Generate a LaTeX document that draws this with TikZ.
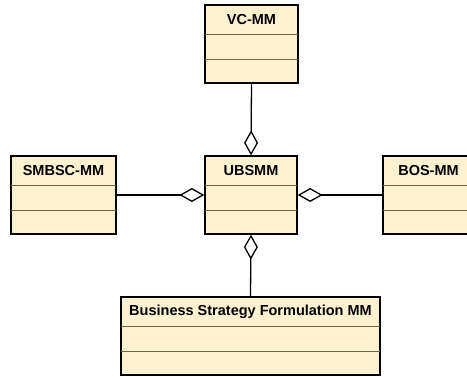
\documentclass[tikz,border=0pt]{standalone}
\usepackage{fontspec}
\setmainfont{Liberation Sans}
\usetikzlibrary{arrows.meta}
\definecolor{classfill}{RGB}{253,241,208}
\definecolor{sepline}{RGB}{115,100,78}
\tikzset{
  classbox/.style={draw=black, line width=1.3pt, fill=classfill, minimum height=78, inner sep=0pt},
  classtitle/.style={font=\bfseries\fontsize{14.5}{16}\selectfont, inner sep=0pt},
  aggr/.style={line width=1.3pt, -{Diamond[open,length=25pt,width=14pt]}},
}
\newcommand{\ClassBox}[5]{%
  \node[classbox, minimum width=#4] (#1) at (#2,#3) {};
  \node[classtitle] (#1-title) at ([yshift=-15.5]#1.north) {#5};
  \draw[sepline, line width=.9pt, shorten <=.7pt, shorten >=.7pt] ([yshift=-30]#1.north west) -- ([yshift=-30]#1.north east);
  \draw[sepline, line width=.9pt, shorten <=.7pt, shorten >=.7pt] ([yshift=-55]#1.north west) -- ([yshift=-55]#1.north east);
}

\begin{document}
\begin{tikzpicture}[x=1pt,y=1pt]
    \useasboundingbox (0,0) rectangle (467,376);
    \ClassBox{vc}{251.5}{332}{93}{VC-MM}
    \ClassBox{smbsc}{63.5}{181}{105}{SMBSC-MM}
    \ClassBox{ubsmm}{251}{181}{92}{UBSMM}
    \ClassBox{bos}{428.5}{181}{91}{BOS-MM}
    \ClassBox{bsf}{250.5}{40}{259}{Business Strategy Formulation MM}
    % aggregations
    \draw[aggr] (vc.south) -- (ubsmm.north);
    \draw[aggr] (smbsc.east) -- (ubsmm.west);
    \draw[aggr] (bos.west) -- (ubsmm.east);
    \draw[aggr] (bsf.north) -- (ubsmm.south);
  \end{tikzpicture}
\end{document}
